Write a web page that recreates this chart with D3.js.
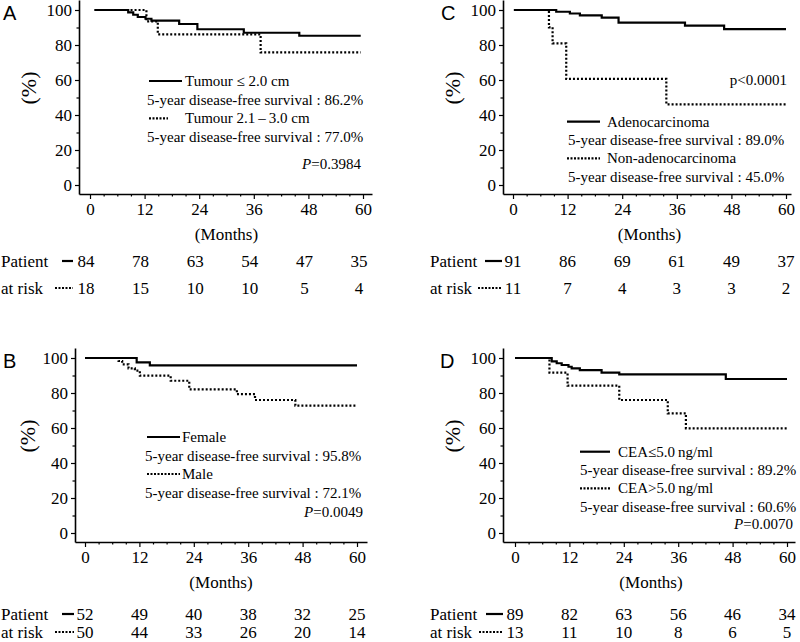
<!DOCTYPE html>
<html><head><meta charset="utf-8">
<script src="https://cdn.jsdelivr.net/npm/d3@7/dist/d3.min.js"></script>
<style>
body{margin:0;background:#fff}
svg{display:block}
text{font-family:"Liberation Serif","Times New Roman",serif;fill:#000}
.lab{font-family:"Liberation Sans",Arial,sans-serif}
</style>
</head><body><svg id="c" width="800" height="642"></svg>
<script>
// ---- shared ticks ----
const monthTicks = [0, 12, 24, 36, 48, 60];
const monthMinor = [3, 6, 9, 15, 18, 21, 27, 30, 33, 39, 42, 45, 51, 54, 57];
const survTicks = [0, 20, 40, 60, 80, 100];
const survMinor = [10, 30, 50, 70, 90];

// ---- Panel A: tumour size ----
const aSolidMonths = [1, 8.4, 9.5, 10.5, 12.2, 13.5, 19.6, 23.6, 33.8, 46, 59.5];
const aSolidSurv   = [100, 98.6, 97.3, 96, 95, 93.9, 92, 89, 87, 85.3, 85.3];
const aDotMonths   = [1, 12.4, 14.9, 37.5, 59.5];
const aDotSurv     = [100, 93.5, 86.1, 75.8, 75.8];
const aLegend = ["Tumour \u2264 2.0 cm", "5-year disease-free survival : 86.2%", "Tumour 2.1\u2009\u2013\u20093.0 cm", "5-year disease-free survival : 77.0%"];
const aP = ["P", "=0.3984"];
const aRiskSolid = [84, 78, 63, 54, 47, 35];
const aRiskDot   = [18, 15, 10, 10, 5, 4];

// ---- Panel B: sex ----
const bSolidMonths = [0, 11.4, 14.3, 60];
const bSolidSurv   = [100, 97.5, 95.8, 95.8];
const bDotMonths   = [0, 7.4, 8.2, 9.6, 11, 12.1, 18.9, 23, 33.5, 37.5, 46.4, 60];
const bDotSurv     = [100, 98.3, 96.4, 94.1, 92.8, 89.9, 87, 82.1, 79.4, 76, 72.8, 72.8];
const bLegend = ["Female", "5-year disease-free survival : 95.8%", "Male", "5-year disease-free survival : 72.1%"];
const bP = ["P", "=0.0049"];
const bRiskSolid = [52, 49, 40, 38, 32, 25];
const bRiskDot   = [50, 44, 33, 26, 20, 14];

// ---- Panel C: histology ----
const cSolidMonths = [0.2, 9.5, 12.5, 14.7, 19.5, 23.2, 37.8, 46.4, 60];
const cSolidSurv   = [100, 99, 98, 96.9, 95.6, 92.8, 91.1, 89.1, 89.1];
const cDotMonths   = [0.2, 7.9, 8.7, 11.7, 33.7, 60];
const cDotSurv     = [100, 90.1, 80.9, 60.6, 46.1, 46.1];
const cLegend = ["Adenocarcinoma", "5-year disease-free survival : 89.0%", "Non-adenocarcinoma", "5-year disease-free survival : 45.0%"];
const cP = ["", "p<0.0001"];
const cRiskSolid = [91, 86, 69, 61, 49, 37];
const cRiskDot   = [11, 7, 4, 3, 3, 2];

// ---- Panel D: CEA ----
const dSolidMonths = [0, 8.1, 9.2, 10.3, 11.8, 12.5, 14.3, 19.1, 23, 46.5, 60];
const dSolidSurv   = [100, 98.1, 97, 96, 95, 94.1, 93.1, 91.6, 90.7, 88, 88];
const dDotMonths   = [0, 7.6, 11.6, 23, 33.7, 37.7, 60];
const dDotSurv     = [100, 91.6, 84.2, 76, 68.4, 59.8, 59.8];
const dLegend = ["CEA\u22645.0\u2009ng/ml", "5-year disease-free survival : 89.2%", "CEA>5.0\u2009ng/ml", "5-year disease-free survival : 60.6%"];
const dP = ["P", "=0.0070"];
const dRiskSolid = [89, 82, 63, 56, 46, 34];
const dRiskDot   = [13, 11, 10, 8, 6, 5];

const svg = d3.select("#c");

function drawPanel(p) {
  const g = svg.append("g");
  const x = d3.scaleLinear().domain([0, 60]).range([p.x0, p.x60]);
  const y = d3.scaleLinear().domain([0, 100]).range([p.yTop + 175, p.yTop]);
  const axisBottomY = p.yTop + 184;
  const xLo = x.invert(p.axisX), xHi = x.invert(p.axisRight);
  const yLo = y.invert(axisBottomY), yHi = y.invert(p.yTop - 10);
  const xA = d3.scaleLinear().domain([xLo, xHi]).range([x(xLo), x(xHi)]);
  const yA = d3.scaleLinear().domain([yLo, yHi]).range([y(yLo), y(yHi)]);

  // y axis
  g.append("g").attr("transform", `translate(${p.axisX},0)`)
    .call(d3.axisLeft(yA).tickValues(survTicks).tickSize(4).tickPadding(3).tickSizeOuter(0));
  g.append("g").attr("transform", `translate(${p.axisX},0)`)
    .call(d3.axisLeft(yA).tickValues(survMinor).tickSize(2.5).tickFormat("").tickSizeOuter(0))
    .select(".domain").remove();
  // x axis
  const gx = g.append("g").attr("transform", `translate(0,${axisBottomY})`)
    .call(d3.axisBottom(xA).tickValues(monthTicks).tickSize(5).tickPadding(4).tickSizeOuter(0));
  g.append("g").attr("transform", `translate(0,${axisBottomY})`)
    .call(d3.axisBottom(xA).tickValues(monthMinor).tickSize(2.5).tickFormat("").tickSizeOuter(0))
    .select(".domain").remove();
  g.selectAll(".domain").attr("stroke", "#000").attr("stroke-width", 1.6);
  g.selectAll(".tick line").attr("stroke", "#000").attr("stroke-width", 1.2);
  g.selectAll(".tick text").style("font-family", '"Liberation Serif","Times New Roman",serif')
    .style("font-size", "17px").attr("fill", "#000");
  gx.selectAll(".tick text").attr("dy", "0.71em");

  // labels
  g.append("text").attr("class", "lab").attr("x", p.lx).attr("y", p.yTop + 10)
    .style("font-size", "20px").text(p.letter);
  g.append("text").attr("transform", `translate(${p.pctX},${p.yTop + 78}) rotate(-90)`)
    .attr("text-anchor", "middle").attr("dy", "0.35em").style("font-size", "22px").text("(%)");
  g.append("text").attr("x", x(30)).attr("y", axisBottomY + 46)
    .attr("text-anchor", "middle").style("font-size", "17px").text("(Months)");

  // curves
  const line = d3.line().curve(d3.curveStepAfter).x(d => x(d[0])).y(d => y(d[1]));
  g.append("path").datum(d3.zip(p.solidM, p.solidS)).attr("d", line)
    .attr("fill", "none").attr("stroke", "#000").attr("stroke-width", 2.2);
  g.append("path").datum(d3.zip(p.dotM, p.dotS)).attr("d", line)
    .attr("fill", "none").attr("stroke", "#000").attr("stroke-width", 2.2)
    .attr("stroke-dasharray", "2,2");

  // legend
  const L = p.leg;
  const fs = "15px";
  g.append("line").attr("x1", L.mx1).attr("x2", L.mx2).attr("y1", L.y1).attr("y2", L.y1)
    .attr("stroke", "#000").attr("stroke-width", 2.2);
  g.append("text").attr("x", L.tx).attr("y", L.y1 + 5).style("font-size", fs).text(p.legend[0]);
  g.append("text").attr("x", L.sx).attr("y", L.y1 + 5 + L.dy).style("font-size", fs).text(p.legend[1]);
  g.append("line").attr("x1", L.mx1).attr("x2", L.dx2).attr("y1", L.y1 + 2 * L.dy).attr("y2", L.y1 + 2 * L.dy)
    .attr("stroke", "#000").attr("stroke-width", 2.2).attr("stroke-dasharray", "2,1.5");
  g.append("text").attr("x", L.tx).attr("y", L.y1 + 5 + 2 * L.dy).style("font-size", fs).text(p.legend[2]);
  g.append("text").attr("x", L.sx).attr("y", L.y1 + 5 + 3 * L.dy).style("font-size", fs).text(p.legend[3]);
  const pt = g.append("text").attr("x", L.px).attr("y", L.py).attr("text-anchor", "end").style("font-size", fs);
  if (p.pv[0]) pt.append("tspan").style("font-style", "italic").text(p.pv[0]);
  pt.append("tspan").text(p.pv[1]);

  // at risk table
  const r1 = axisBottomY + p.r1, r2 = axisBottomY + p.r2;
  g.append("text").attr("x", p.rx).attr("y", r1).style("font-size", "17px").text("Patient");
  g.append("text").attr("x", p.rx).attr("y", r2).style("font-size", "17px").text("at risk");
  g.append("line").attr("x1", p.rm1).attr("x2", p.rm2).attr("y1", r1 - 6).attr("y2", r1 - 6)
    .attr("stroke", "#000").attr("stroke-width", 2.2);
  g.append("line").attr("x1", p.rm1 - 7).attr("x2", p.rm2).attr("y1", r2 - 6).attr("y2", r2 - 6)
    .attr("stroke", "#000").attr("stroke-width", 2).attr("stroke-dasharray", "2,1.5");
  g.selectAll(".rs").data(p.riskS).join("text").attr("x", (d, i) => x(monthTicks[i]) + p.rOff)
    .attr("y", r1).attr("text-anchor", "middle").style("font-size", "17px").text(d => d);
  g.selectAll(".rd").data(p.riskD).join("text").attr("x", (d, i) => x(monthTicks[i]) + p.rOff)
    .attr("y", r2).attr("text-anchor", "middle").style("font-size", "17px").text(d => d);
}

drawPanel({letter: "A", lx: 3, pctX: 28, x0: 90, x60: 363, yTop: 10, axisX: 79, axisRight: 372,
  solidM: aSolidMonths, solidS: aSolidSurv, dotM: aDotMonths, dotS: aDotSurv,
  legend: aLegend, pv: aP, riskS: aRiskSolid, riskD: aRiskDot,
  leg: {mx1: 149, mx2: 182, dx2: 168, tx: 185, sx: 147, y1: 81, dy: 18.7, px: 361, py: 169},
  r1: 73, r2: 100, rx: 1, rm1: 62, rm2: 73, rOff: -4});

drawPanel({letter: "B", lx: 3, pctX: 27, x0: 85, x60: 357, yTop: 358, axisX: 75, axisRight: 367,
  solidM: bSolidMonths, solidS: bSolidSurv, dotM: bDotMonths, dotS: bDotSurv,
  legend: bLegend, pv: bP, riskS: bRiskSolid, riskD: bRiskDot,
  leg: {mx1: 147, mx2: 180, dx2: 180, tx: 182, sx: 145, y1: 437, dy: 18.5, px: 363, py: 517},
  r1: 78, r2: 96, rx: 1, rm1: 62, rm2: 74, rOff: 0});

drawPanel({letter: "C", lx: 441, pctX: 452, x0: 513, x60: 786, yTop: 10, axisX: 503, axisRight: 791,
  solidM: cSolidMonths, solidS: cSolidSurv, dotM: cDotMonths, dotS: cDotSurv,
  legend: cLegend, pv: cP, riskS: cRiskSolid, riskD: cRiskDot,
  leg: {mx1: 567, mx2: 600, dx2: 600, tx: 607, sx: 568, y1: 121.7, dy: 18.3, px: 787, py: 85},
  r1: 73, r2: 100, rx: 430, rm1: 485, rm2: 502, rOff: 0});

drawPanel({letter: "D", lx: 440, pctX: 452, x0: 515, x60: 787, yTop: 358, axisX: 503, axisRight: 795,
  solidM: dSolidMonths, solidS: dSolidSurv, dotM: dDotMonths, dotS: dDotSurv,
  legend: dLegend, pv: dP, riskS: dRiskSolid, riskD: dRiskDot,
  leg: {mx1: 580, mx2: 610, dx2: 610, tx: 618, sx: 580, y1: 451.7, dy: 18.3, px: 793, py: 528.5},
  r1: 78, r2: 96, rx: 430, rm1: 486, rm2: 503, rOff: 0});
</script>
</body></html>
